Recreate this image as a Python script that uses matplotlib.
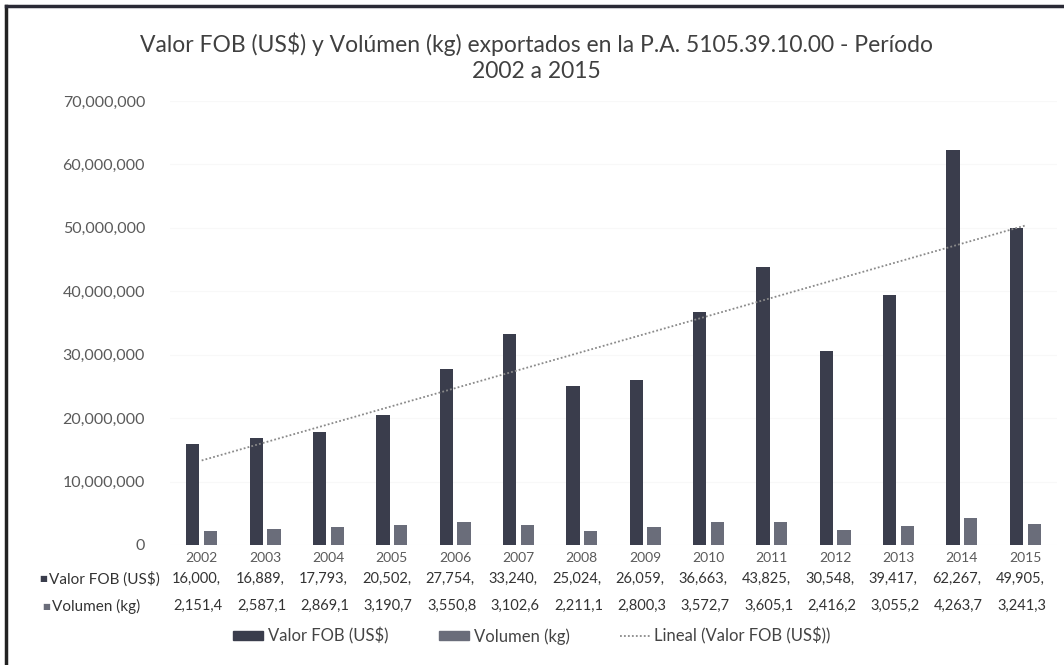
import numpy as np
import matplotlib
matplotlib.use("Agg")
import matplotlib.pyplot as plt
import matplotlib.transforms as mtrans
from matplotlib.lines import Line2D
from matplotlib.patches import Patch

years = ["2002", "2003", "2004", "2005", "2006", "2007", "2008",
         "2009", "2010", "2011", "2012", "2013", "2014", "2015"]
valor_fob = [16000000, 16889000, 17793000, 20502000, 27754000, 33240000, 25024000,
             26059000, 36663000, 43825000, 30548000, 39417000, 62267000, 49905000]
volumen = [2151400, 2587100, 2869100, 3190700, 3550800, 3102600, 2211100,
           2800300, 3572700, 3605100, 2416200, 3055200, 4263700, 3241300]
yticks = [0, 10000000, 20000000, 30000000, 40000000, 50000000, 60000000, 70000000]

title = "Valor FOB (US$) y Volúmen (kg) exportados en la P.A. 5105.39.10.00 - Período\n2002 a 2015"
lbl_fob = "Valor FOB (US$)"
lbl_vol = "Volumen (kg)"
lbl_trend = "Lineal (Valor FOB (US$))"

plt.rcParams['font.family'] = ['Lato', 'DejaVu Sans']

c_fob = "#3a3d4c"
c_vol = "#6a6d7a"
c_text = "#5a5a5a"

fig = plt.figure(figsize=(10.64, 6.65), dpi=100)
W, H = 1064, 665
ax = fig.add_axes([170 / W, 1 - 545 / H, (1057 - 170) / W, (545 - 101) / H])

x = np.arange(len(years))
bw = 0.21
ax.bar(x - 0.14, valor_fob, width=bw, color=c_fob, zorder=2)
ax.bar(x + 0.14, volumen, width=bw, color=c_vol, zorder=2)

# linear trend of Valor FOB
coef = np.polyfit(x, valor_fob, 1)
ax.plot(x, np.polyval(coef, x), color="#8a8a8a", lw=1.3, ls=(0, (1, 1.2)), zorder=3)

ax.set_xlim(-0.5, len(years) - 0.5)
ax.set_ylim(0, 70000000)
ax.set_yticks(yticks)
ax.set_yticklabels([f"{v:,}" for v in yticks], color=c_text, fontsize=11.5)
ax.tick_params(axis='y', length=0, pad=18)
ax.set_xticks([])
ax.grid(axis='y', color="#f8f8f8", lw=0.8, zorder=0)
for s in ax.spines.values():
    s.set_visible(False)

fig.text(536 / W, 1 - 57 / H, title, ha='center', va='center', fontsize=16.5,
         color="#404040", linespacing=1.3)


def ypix(p):
    return 1 - p / H


# data table
tr = mtrans.blended_transform_factory(ax.transData, fig.transFigure)
for i, yr in enumerate(years):
    ax.text(i, ypix(558), yr, transform=tr, ha='center', va='center',
            fontsize=10, color=c_text)
    ax.text(i - 0.47, ypix(579), f"{valor_fob[i]:,}"[:7], transform=tr,
            ha='left', va='center', fontsize=10.5, color="#333333")
    ax.text(i - 0.44, ypix(606), f"{volumen[i]:,}"[:7], transform=tr,
            ha='left', va='center', fontsize=10.5, color="#333333")

fig.text(39 / W, ypix(579), "■", color=c_fob, fontsize=6, ha='left', va='center')
fig.text(49 / W, ypix(579), lbl_fob, color="#333333", fontsize=11, ha='left', va='center')
fig.text(42 / W, ypix(606), "■", color=c_vol, fontsize=6, ha='left', va='center')
fig.text(52 / W, ypix(606), lbl_vol, color="#333333", fontsize=11, ha='left', va='center')

handles = [Patch(color=c_fob), Patch(color=c_vol),
           Line2D([0], [0], color="#8a8a8a", lw=1.3, ls=(0, (1, 1.2)))]
fig.legend(handles, [lbl_fob, lbl_vol, lbl_trend], loc='center',
           bbox_to_anchor=(0.5, ypix(636)), ncol=3, frameon=False,
           fontsize=12, handlelength=1.8, handleheight=0.45, handletextpad=0.3,
           columnspacing=3.0, labelcolor="#444444")

# frame border (left and top visible)
fig.add_artist(Line2D([6 / W, 6 / W], [0, ypix(6)], color="#222222", lw=2.5,
                      transform=fig.transFigure))
fig.add_artist(Line2D([6 / W, 1], [ypix(6), ypix(6)], color="#2a2a35", lw=2.5,
                      transform=fig.transFigure))

fig.savefig("out.png", dpi=100, facecolor="white")
